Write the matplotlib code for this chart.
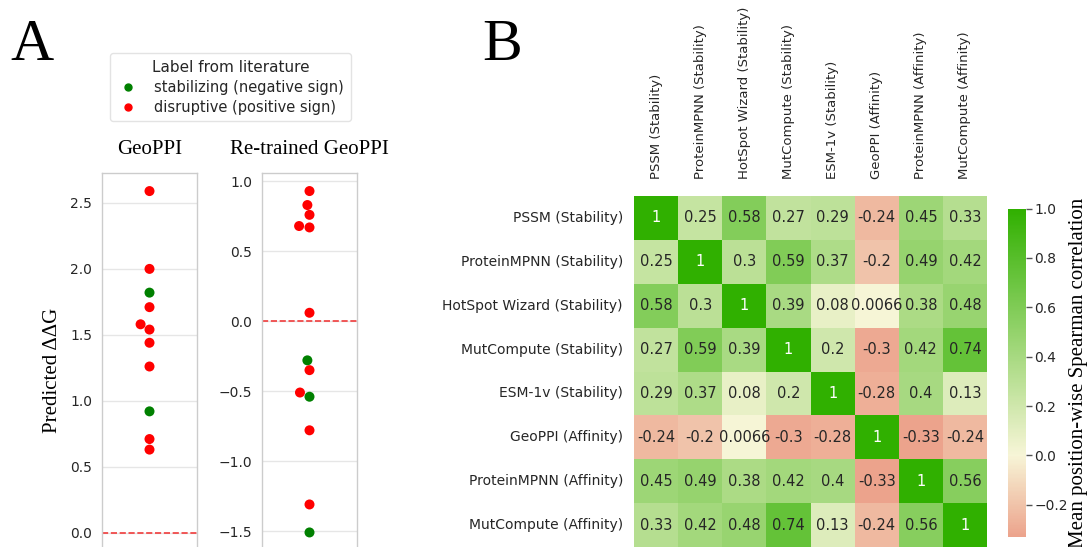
import numpy as np
import pandas as pd
import matplotlib
matplotlib.use("Agg")
import matplotlib.pyplot as plt
from matplotlib.colors import LinearSegmentedColormap
from matplotlib.lines import Line2D
import seaborn as sns

# --- Panel A data: predicted ddG for literature-labelled mutations ---
label_stab = "stabilizing (negative sign)"
label_disr = "disruptive (positive sign)"

geoppi_pred = [2.59, 2.00, 1.82, 1.71, 1.58, 1.54, 1.44, 1.26, 0.92, 0.71, 0.63]
geoppi_label = [label_disr, label_disr, label_stab, label_disr, label_disr, label_disr,
                label_disr, label_disr, label_stab, label_disr, label_disr]

retrained_pred = [0.93, 0.83, 0.76, 0.68, 0.67, 0.06, -0.28, -0.35, -0.51, -0.54,
                  -0.78, -1.31, -1.51]
retrained_label = [label_disr, label_disr, label_disr, label_disr, label_disr, label_disr,
                   label_stab, label_disr, label_disr, label_stab, label_disr, label_disr,
                   label_stab]

# --- Panel B data: mean position-wise Spearman correlation ---
methods = ["PSSM (Stability)", "ProteinMPNN (Stability)", "HotSpot Wizard (Stability)",
           "MutCompute (Stability)", "ESM-1v (Stability)", "GeoPPI (Affinity)",
           "ProteinMPNN (Affinity)", "MutCompute (Affinity)"]
corr = [
    [1, 0.25, 0.58, 0.27, 0.29, -0.24, 0.45, 0.33],
    [0.25, 1, 0.3, 0.59, 0.37, -0.2, 0.49, 0.42],
    [0.58, 0.3, 1, 0.39, 0.08, 0.0066, 0.38, 0.48],
    [0.27, 0.59, 0.39, 1, 0.2, -0.3, 0.42, 0.74],
    [0.29, 0.37, 0.08, 0.2, 1, -0.28, 0.4, 0.13],
    [-0.24, -0.2, 0.0066, -0.3, -0.28, 1, -0.33, -0.24],
    [0.45, 0.49, 0.38, 0.42, 0.4, -0.33, 1, 0.56],
    [0.33, 0.42, 0.48, 0.74, 0.13, -0.24, 0.56, 1],
]
cbar_ticks = [-0.2, 0.0, 0.2, 0.4, 0.6, 0.8, 1.0]

plt.rcParams['font.family'] = ['DejaVu Sans']
serif = ['Liberation Serif', 'DejaVu Serif']
txt = '#262626'
palette = {label_stab: 'green', label_disr: 'red'}

W, H = 1091, 547
fig = plt.figure(figsize=(W / 100, H / 100), dpi=100)


def px(x0, y0, x1, y1):
    # pixel box -> figure fraction rect
    return [x0 / W, 1 - y1 / H, (x1 - x0) / W, (y1 - y0) / H]


def style_swarm_ax(ax, ylim, yticks):
    ax.set_ylim(*ylim)
    ax.set_xlim(-0.5, 0.5)
    ax.set_yticks(yticks)
    ax.set_xticks([])
    ax.set_xlabel('')
    ax.set_ylabel('')
    ax.grid(axis='y', color='#e6e6e6', lw=1)
    ax.set_axisbelow(True)
    for s in ax.spines.values():
        s.set_color('#cccccc')
        s.set_linewidth(1)
    ax.tick_params(axis='y', length=0, pad=7, labelsize=10, labelcolor=txt)
    ax.axhline(0, color='#f03c3c', ls='--', lw=1.2, zorder=1)


# --- Panel A ---
ax1 = fig.add_axes(px(102, 173, 197, 567))
sns.swarmplot(y=geoppi_pred, hue=geoppi_label, palette=palette, size=7.2,
              legend=False, ax=ax1, zorder=3)
style_swarm_ax(ax1, (-0.26, 2.727), np.arange(0, 2.51, 0.5))
ax1.set_title("GeoPPI", fontsize=15, family=serif, pad=14)
ax1.set_ylabel("Predicted ΔΔG", fontsize=15, family=serif, labelpad=6)

ax2 = fig.add_axes(px(262, 173, 357, 567))
sns.swarmplot(y=retrained_pred, hue=retrained_label, palette=palette, size=7.2,
              legend=False, ax=ax2, zorder=3)
style_swarm_ax(ax2, (-1.757, 1.059), np.arange(-1.5, 1.01, 0.5))
ax2.set_title("Re-trained GeoPPI", fontsize=15, family=serif, pad=14)

handles = [Line2D([], [], marker='o', ls='', color='green', markersize=5),
           Line2D([], [], marker='o', ls='', color='red', markersize=5)]
leg = fig.legend(handles, [label_stab, label_disr], title="Label from literature",
                 loc='upper left', bbox_to_anchor=(110 / W, 1 - 53 / H),
                 fontsize=10.5, title_fontsize=11, frameon=True,
                 handletextpad=1.1, borderpad=0.45, labelspacing=0.35,
                 handlelength=1.5, borderaxespad=0)
leg.get_frame().set_edgecolor('#dddddd')
leg.get_frame().set_linewidth(1)
for t in leg.get_texts():
    t.set_color(txt)
leg.get_title().set_color(txt)

# --- Panel B ---
cmap = LinearSegmentedColormap.from_list(
    'rg', [(0.0, (236 / 255, 163 / 255, 140 / 255)),
           (0.33 / 1.33, (247 / 255, 245 / 255, 215 / 255)),
           (1.0, (48 / 255, 176 / 255, 0))])

ax3 = fig.add_axes(px(634, 196, 987, 547))
cax = fig.add_axes(px(1008, 208.5, 1026, 537))
df = pd.DataFrame(corr, index=methods, columns=methods)
sns.heatmap(df, ax=ax3, cbar_ax=cax, cmap=cmap, vmin=-0.33, vmax=1,
            annot=True, fmt='.2g', annot_kws={'fontsize': 10.5})
ax3.xaxis.tick_top()
ax3.tick_params(axis='both', length=0, labelcolor=txt)
ax3.tick_params(axis='y', pad=8, labelsize=10)
ax3.tick_params(axis='x', pad=12, labelsize=9.5)
plt.setp(ax3.get_xticklabels(), rotation=90)
plt.setp(ax3.get_yticklabels(), rotation=0)

cbar = ax3.collections[0].colorbar
cbar.set_ticks(cbar_ticks)
cbar.outline.set_visible(False)
cax.tick_params(length=4, width=1, color='#555555', labelsize=10, labelcolor=txt, pad=2)
cbar.set_label("Mean position-wise Spearman correlation", fontsize=15,
               family=serif, labelpad=1)

fig.text(10 / W, 1 - 60 / H, "A", fontsize=43, family=serif, va='baseline')
fig.text(482 / W, 1 - 60 / H, "B", fontsize=43, family=serif, va='baseline')

fig.savefig("out.png", dpi=100)
